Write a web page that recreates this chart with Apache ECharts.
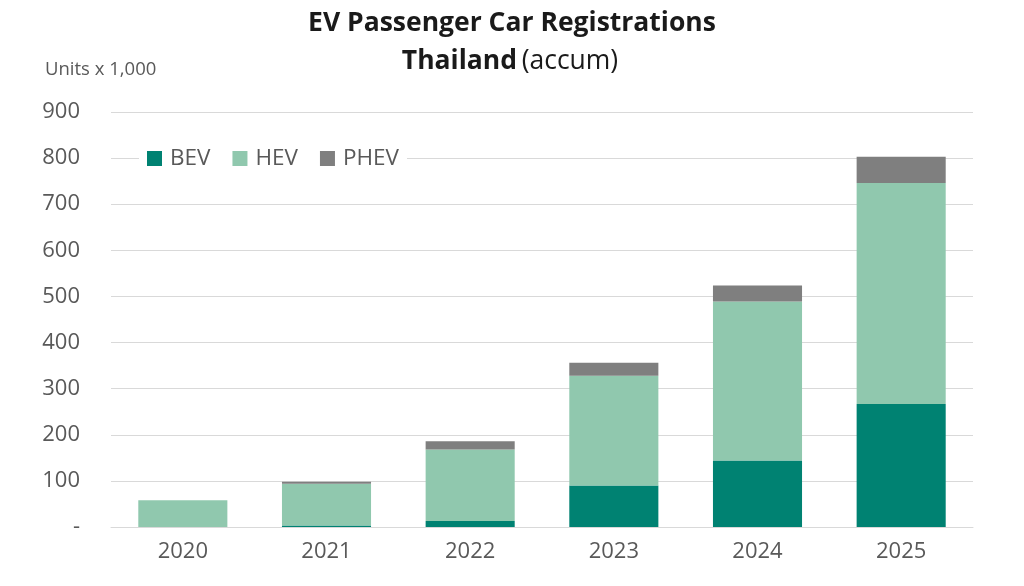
<!DOCTYPE html>
<html><head><meta charset="utf-8">
<script src="https://cdn.jsdelivr.net/npm/echarts@6/dist/echarts.min.js"></script>
<style>html,body{margin:0;padding:0;background:#fff}#c{width:1024px;height:586px}</style>
</head><body><div id="c"></div>
<script>
const categories = ['2020','2021','2022','2023','2024','2025'];
const bev  = [0, 3, 13, 90, 144, 267];
const hev  = [58, 91, 155, 238, 345, 479];
const phev = [0, 4, 18, 28, 35, 57];
const yTicks = [0,100,200,300,400,500,600,700,800,900];

const font = 'Open Sans';
const chart = echarts.init(document.getElementById('c'));
chart.setOption({
  animation: false,
  textStyle: { fontFamily: font },
  title: [
    { text: 'EV Passenger Car Registrations', left: 507, top: 5, textAlign: 'center',
      textStyle: { fontFamily: font, fontWeight: 'bold', fontSize: 26.5, color: '#1a1a1a' } },
    { text: '{b|Thailand} {n|(accum)}', left: 505, top: 43, textAlign: 'center',
      textStyle: { rich: {
        b: { fontFamily: font, fontWeight: 'bold', fontSize: 26.5, color: '#1a1a1a' },
        n: { fontFamily: font, fontWeight: 'normal', fontSize: 26.5, color: '#1a1a1a' } } } },
    { text: 'Units x 1,000', left: 40, top: 55,
      textStyle: { fontFamily: font, fontWeight: 'normal', fontSize: 18.5, color: '#595959' } }
  ],
  legend: {
    data: ['BEV','HEV','PHEV'], left: 139, top: 145, itemWidth: 15, itemHeight: 15,
    itemGap: 22, icon: 'rect', backgroundColor: '#fff', padding: [2, 8],
    textStyle: { fontFamily: font, fontSize: 22.5, color: '#595959', padding: [0, 0, 0, 3] }
  },
  grid: { left: 111, right: 51, top: 112, bottom: 59, containLabel: false },
  xAxis: {
    type: 'category', data: categories,
    axisLine: { show: true, lineStyle: { color: '#d9d9d9' } },
    axisTick: { show: false },
    axisLabel: { fontFamily: font, fontSize: 22, color: '#595959', margin: 14 }
  },
  yAxis: {
    type: 'value', min: 0, max: 900, interval: 100,
    axisLine: { show: false }, axisTick: { show: false },
    splitLine: { lineStyle: { color: '#d9d9d9', width: 1 } },
    axisLabel: { fontFamily: font, fontSize: 22, color: '#595959', margin: 31,
      formatter: v => yTicks.includes(v) ? (v === 0 ? '-' : String(v)) : '' }
  },
  series: [
    { name: 'BEV', type: 'bar', stack: 't', data: bev, itemStyle: { color: '#008272' }, barWidth: '62%' },
    { name: 'HEV', type: 'bar', stack: 't', data: hev, itemStyle: { color: '#90c8ae' } },
    { name: 'PHEV', type: 'bar', stack: 't', data: phev, itemStyle: { color: '#7f7f7f' } }
  ]
});
</script></body></html>
